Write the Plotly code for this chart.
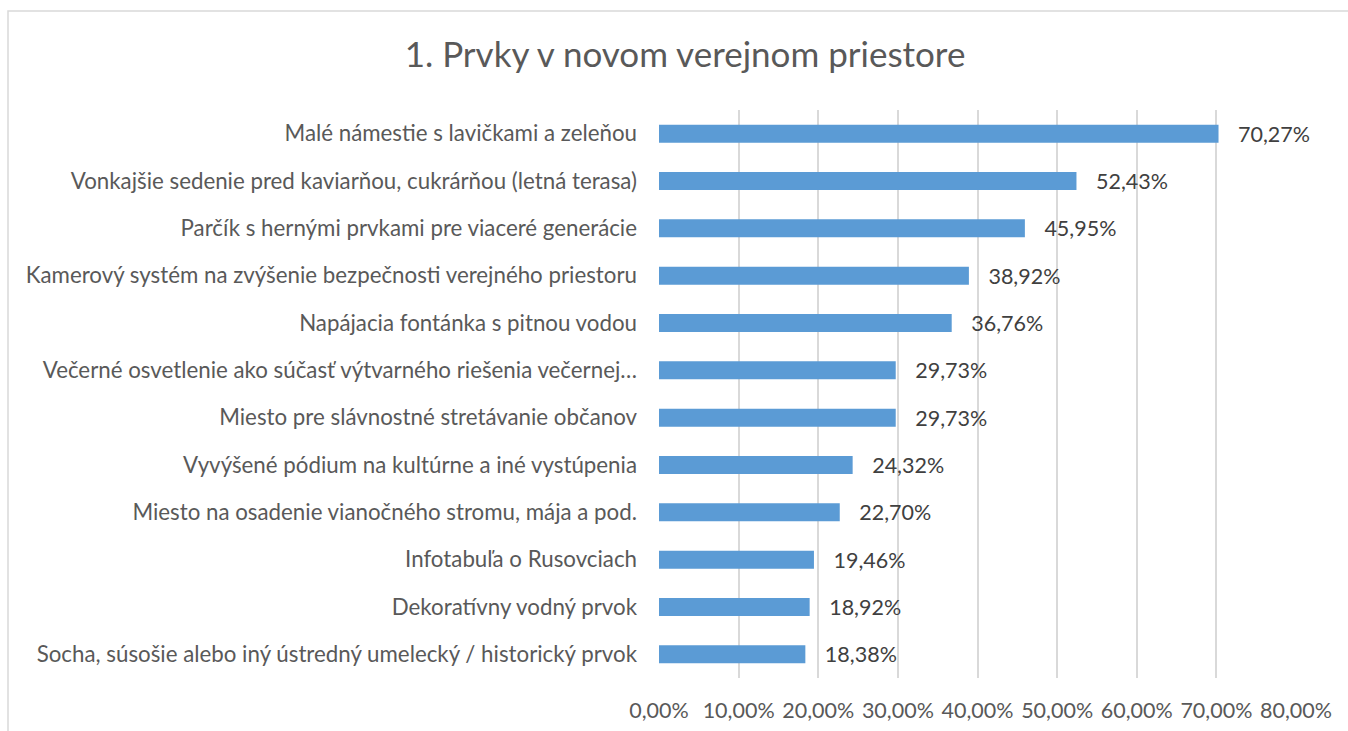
import plotly.graph_objects as go

categories = [
    "Malé námestie s lavičkami a zeleňou",
    "Vonkajšie sedenie pred kaviarňou, cukrárňou (letná terasa)",
    "Parčík s hernými prvkami pre viaceré generácie",
    "Kamerový systém na zvýšenie bezpečnosti verejného priestoru",
    "Napájacia fontánka s pitnou vodou",
    "Večerné osvetlenie ako súčasť výtvarného riešenia večernej…",
    "Miesto pre slávnostné stretávanie občanov",
    "Vyvýšené pódium na kultúrne a iné vystúpenia",
    "Miesto na osadenie vianočného stromu, mája a pod.",
    "Infotabuľa o Rusovciach",
    "Dekoratívny vodný prvok",
    "Socha, súsošie alebo iný ústredný umelecký / historický prvok",
]
values = [0.7027, 0.5243, 0.4595, 0.3892, 0.3676, 0.2973, 0.2973, 0.2432, 0.2270, 0.1946, 0.1892, 0.1838]
tick_vals = [0, 0.1, 0.2, 0.3, 0.4, 0.5, 0.6, 0.7, 0.8]

FONT = "Lato"
FS = 21.5

fig = go.Figure()
fig.add_trace(go.Bar(
    x=values,
    y=categories,
    orientation="h",
    marker=dict(color="#5B9BD5", line=dict(width=0)),
    texttemplate="   %{x:.2%}",
    textposition="outside",
    constraintext="none",
    textfont=dict(family=FONT, size=FS, color="#404040"),
    cliponaxis=False,
))

fig.update_layout(
    width=1348, height=731,
    paper_bgcolor="white", plot_bgcolor="white",
    separators=", ",
    margin=dict(l=659, r=52, t=110, b=53, autoexpand=False),
    bargap=0.62,
    showlegend=False,
    title=dict(
        text="1. Prvky v novom verejnom priestore",
        font=dict(family=FONT, size=35, color="#595959"),
        x=685 / 1348, xref="container", xanchor="center",
        y=1 - 55 / 731, yref="container", yanchor="middle",
    ),
    xaxis=dict(
        range=[0, 0.8],
        tickvals=tick_vals,
        tickformat=".2%",
        showgrid=True, gridcolor="#D9D9D9", gridwidth=1.5,
        zeroline=False, showline=False,
        tickfont=dict(family=FONT, size=FS, color="#595959"),
        ticks="", ticklabelstandoff=17,
        fixedrange=True, automargin=False,
    ),
    yaxis=dict(
        autorange="reversed",
        showgrid=False, zeroline=False, showline=False,
        tickfont=dict(family=FONT, size=22.3, color="#595959"),
        ticks="", ticklabelstandoff=21,
        fixedrange=True, automargin=False,
    ),
    shapes=[dict(
        type="rect", xref="paper", yref="paper",
        x0=(8 - 659) / (1348 - 659 - 52), x1=1.5,
        y0=-0.5, y1=1 + (110 - 11) / (731 - 110 - 53),
        line=dict(color="#D9D9D9", width=1.5),
        fillcolor="rgba(0,0,0,0)", layer="below",
    )],
)

fig.write_html(
    "out.html",
    config={"displayModeBar": False},
    post_script="document.body.style.margin='0';document.body.style.overflow='hidden';",
)
